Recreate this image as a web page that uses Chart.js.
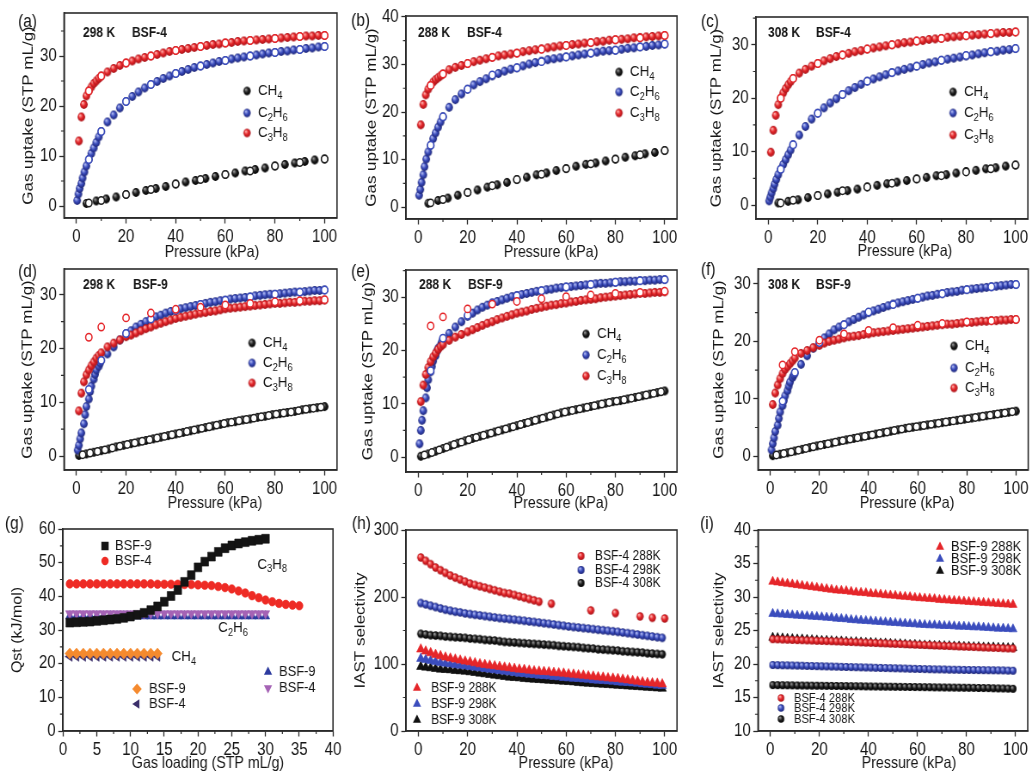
<!DOCTYPE html>
<html>
<head>
<meta charset="utf-8">
<title>Adsorption isotherms, Qst and IAST selectivity of BSF-4 and BSF-9</title>
<script src="https://cdn.jsdelivr.net/npm/chart.js@4.4.1/dist/chart.umd.min.js"></script>
<style>
  html, body { margin: 0; padding: 0; background: #fff; }
  #page { position: relative; width: 1033px; height: 774px; overflow: hidden; background: #fff; }
  .cell { position: absolute; overflow: visible; }
  .cell canvas { display: block; transform-origin: 0 0; }
</style>
</head>
<body>
<div id="page"></div>
<script>
// ---------------- axis ticks ----------------
const P_TICKS = [0, 20, 40, 60, 80, 100];
const UPTAKE_TICKS_30 = [0, 10, 20, 30];
const UPTAKE_TICKS_40 = [0, 10, 20, 30, 40];
const LOAD_TICKS = [0, 5, 10, 15, 20, 25, 30, 35, 40];
const QST_TICKS = [0, 10, 20, 30, 40, 50, 60];
const SEL_TICKS_H = [0, 100, 200, 300];
const SEL_TICKS_I = [10, 15, 20, 25, 30, 35, 40];

// ---------------- pressure grids (kPa) ----------------
const P4_CH4 = [4, 8, 12, 16, 20, 24, 28, 32, 36, 40, 44, 48, 52, 56, 60, 64, 68, 72, 76, 80, 84, 88, 92, 96, 100];
const P4_C2H6 = [0.3, 0.8, 1.3, 2, 2.5, 3.2, 4, 5, 6, 7, 8, 9, 10, 12.5, 15, 17.5, 20, 22.5, 25, 27.5, 30, 32.5, 35, 37.5, 40, 42.5, 45, 47.5, 50, 52.5, 55, 57.5, 60, 62.5, 65, 67.5, 70, 72.5, 75, 77.5, 80, 82.5, 85, 87.5, 90, 92.5, 95, 97.5, 100];
const P4_C3H8 = [1, 2, 3, 4, 5, 6, 7, 8, 9, 10, 12.5, 15, 17.5, 20, 22.5, 25, 27.5, 30, 32.5, 35, 37.5, 40, 42.5, 45, 47.5, 50, 52.5, 55, 57.5, 60, 62.5, 65, 67.5, 70, 72.5, 75, 77.5, 80, 82.5, 85, 87.5, 90, 92.5, 95, 97.5, 100];
const P_DES = [5, 10, 20, 30, 40, 50, 60, 70, 80, 90, 100];
const P9_CH4 = [1, 4, 7, 10, 13, 16, 19, 22, 25, 28, 31, 34, 37, 40, 43, 46, 49, 52, 55, 58, 61, 64, 67, 70, 73, 76, 79, 82, 85, 88, 91, 94, 97, 100];
const P9_CH4_DES = [2.5, 5.5, 8.5, 11.5, 14.5, 17.5, 20.5, 23.5, 26.5, 29.5, 32.5, 35.5, 38.5, 41.5, 44.5, 47.5, 50.5, 53.5, 56.5, 59.5, 62.5, 65.5, 68.5, 71.5, 74.5, 77.5, 80.5, 83.5, 86.5, 89.5, 92.5, 95.5, 98.5];
const P9_C2H6 = [0.5, 1, 1.5, 2, 3, 3.5, 4, 5, 5.5, 6, 7, 7.5, 8, 9, 9.5, 10, 12.5, 15, 17.5, 20, 22, 24, 26, 28, 30, 32, 34, 36, 38, 40, 42, 44, 46, 48, 50, 52, 54, 56, 58, 60, 62, 64, 66, 68, 70, 72, 74, 76, 78, 80, 82, 84, 86, 88, 90, 92, 94, 96, 98, 100];
const P9_C3H8 = [1, 2, 3, 4, 5, 6, 7, 8, 9, 10, 12.5, 15, 17.5, 20, 22, 24, 26, 28, 30, 32, 34, 36, 38, 40, 42, 44, 46, 48, 50, 52, 54, 56, 58, 60, 62, 64, 66, 68, 70, 72, 74, 76, 78, 80, 82, 84, 86, 88, 90, 92, 94, 96, 98, 100];

// ---------------- (a) BSF-4, 298 K uptake (STP mL/g) ----------------
const A_CH4 = [0.5, 1.0, 1.4, 1.8, 2.3, 2.7, 3.1, 3.5, 3.9, 4.4, 4.8, 5.1, 5.5, 5.9, 6.3, 6.6, 7.0, 7.3, 7.6, 8.0, 8.3, 8.6, 8.9, 9.2, 9.4];
const A_C2H6 = [1.1, 2.4, 3.5, 4.5, 5.6, 6.8, 8.0, 9.3, 10.5, 11.6, 12.7, 13.8, 14.9, 16.8, 18.2, 19.6, 20.9, 21.9, 22.8, 23.6, 24.3, 24.9, 25.5, 26.0, 26.5, 26.9, 27.3, 27.7, 28.0, 28.3, 28.6, 28.9, 29.1, 29.4, 29.6, 29.8, 30.0, 30.2, 30.4, 30.6, 30.7, 30.9, 31.0, 31.2, 31.3, 31.5, 31.6, 31.8, 31.9];
const A_C3H8 = [13.0, 17.8, 20.3, 22.0, 23.0, 23.8, 24.5, 25.0, 25.5, 26.0, 26.8, 27.5, 28.1, 28.6, 29.0, 29.4, 29.7, 30.0, 30.3, 30.6, 30.9, 31.1, 31.3, 31.5, 31.7, 31.9, 32.1, 32.3, 32.4, 32.6, 32.7, 32.9, 33.0, 33.1, 33.2, 33.3, 33.4, 33.5, 33.6, 33.7, 33.8, 33.9, 34.0, 34.0, 34.1, 34.1];
const A_DES_CH4 = [0.6, 1.1, 2.3, 3.3, 4.4, 5.3, 6.3, 7.0, 8.0, 8.7, 9.4];
const A_DES_C2H6 = [9.3, 14.9, 20.9, 24.3, 26.5, 28.0, 29.1, 30.0, 30.7, 31.3, 31.9];
const A_DES_C3H8 = [23.0, 26.0, 28.6, 30.0, 31.1, 31.9, 32.6, 33.1, 33.5, 33.9, 34.1];

// ---------------- (b) BSF-4, 288 K ----------------
const B_CH4 = [0.8, 1.4, 1.9, 2.5, 3.1, 3.6, 4.2, 4.7, 5.2, 5.8, 6.3, 6.8, 7.2, 7.7, 8.1, 8.6, 9.0, 9.3, 9.7, 10.1, 10.5, 10.8, 11.2, 11.5, 11.9];
const B_C2H6 = [2.5, 3.7, 5.2, 6.8, 8.5, 10.1, 11.6, 13.0, 14.4, 15.6, 16.8, 17.9, 19.0, 21.0, 22.6, 23.8, 24.8, 25.7, 26.4, 27.0, 27.6, 28.1, 28.6, 29.0, 29.3, 29.7, 30.1, 30.4, 30.7, 31.0, 31.2, 31.4, 31.6, 31.8, 32.0, 32.2, 32.4, 32.6, 32.8, 32.9, 33.0, 33.2, 33.4, 33.5, 33.7, 33.8, 34.0, 34.1, 34.3];
const B_C3H8 = [17.3, 21.6, 23.6, 24.8, 25.6, 26.3, 26.8, 27.2, 27.6, 28.0, 28.9, 29.4, 29.8, 30.2, 30.6, 30.9, 31.2, 31.5, 31.8, 32.0, 32.2, 32.4, 32.7, 32.9, 33.1, 33.3, 33.5, 33.7, 33.9, 34.0, 34.2, 34.3, 34.5, 34.6, 34.8, 34.9, 35.1, 35.2, 35.3, 35.4, 35.6, 35.7, 35.8, 35.9, 36.0, 36.1];
const B_DES_CH4 = [0.9, 1.6, 3.1, 4.5, 5.8, 6.9, 8.1, 9.1, 10.1, 11.0, 11.9];
const B_DES_C2H6 = [13.0, 19.0, 24.8, 27.8, 29.3, 30.6, 31.6, 32.4, 33.0, 33.7, 34.3];
const B_DES_C3H8 = [25.6, 28.0, 30.2, 31.5, 32.4, 33.2, 34.0, 34.6, 35.2, 35.6, 36.1];

// ---------------- (c) BSF-4, 308 K ----------------
const C_CH4 = [0.4, 0.7, 1.0, 1.4, 1.8, 2.1, 2.4, 2.7, 3.0, 3.4, 3.7, 4.0, 4.3, 4.6, 4.9, 5.2, 5.5, 5.7, 6.0, 6.3, 6.5, 6.8, 7.0, 7.3, 7.5];
const C_C2H6 = [0.8, 1.5, 2.3, 3.1, 3.9, 4.8, 5.7, 6.7, 7.6, 8.5, 9.4, 10.3, 11.3, 13.1, 14.7, 16.1, 17.2, 18.2, 19.1, 19.9, 20.7, 21.4, 22.0, 22.6, 23.2, 23.6, 24.0, 24.4, 24.8, 25.1, 25.4, 25.7, 26.0, 26.3, 26.6, 26.8, 27.1, 27.3, 27.5, 27.7, 27.9, 28.1, 28.3, 28.5, 28.7, 28.8, 29.0, 29.1, 29.3];
const C_C3H8 = [9.9, 14.0, 16.8, 18.8, 20.0, 21.0, 21.8, 22.5, 23.1, 23.7, 24.7, 25.4, 26.0, 26.5, 27.0, 27.4, 27.8, 28.1, 28.4, 28.7, 28.9, 29.2, 29.4, 29.6, 29.8, 30.0, 30.2, 30.4, 30.5, 30.7, 30.8, 31.0, 31.1, 31.2, 31.4, 31.5, 31.6, 31.7, 31.8, 31.9, 32.0, 32.1, 32.2, 32.3, 32.3, 32.4];
const C_DES_CH4 = [0.4, 0.9, 1.8, 2.7, 3.4, 4.1, 4.9, 5.5, 6.2, 6.8, 7.5];
const C_DES_C2H6 = [6.7, 11.3, 17.2, 20.7, 23.2, 24.8, 26.0, 27.1, 28.0, 28.7, 29.3];
const C_DES_C3H8 = [20.0, 23.7, 26.5, 28.1, 29.2, 30.0, 30.7, 31.2, 31.7, 32.1, 32.4];

// ---------------- (d) BSF-9, 298 K ----------------
const D_CH4 = [0.1, 0.4, 0.7, 1.0, 1.3, 1.7, 2.0, 2.3, 2.6, 2.9, 3.2, 3.5, 3.8, 4.1, 4.4, 4.7, 5.0, 5.3, 5.6, 5.9, 6.2, 6.4, 6.7, 6.9, 7.2, 7.4, 7.7, 7.9, 8.1, 8.3, 8.6, 8.8, 9.0, 9.2];
const D_DES_CH4 = [0.25, 0.55, 0.85, 1.15, 1.5, 1.85, 2.15, 2.45, 2.75, 3.05, 3.35, 3.65, 3.95, 4.25, 4.55, 4.85, 5.15, 5.45, 5.75, 6.05, 6.3, 6.55, 6.8, 7.05, 7.3, 7.55, 7.8, 8.0, 8.2, 8.45, 8.7, 8.9, 9.1];
const D_C2H6 = [1.1, 2.0, 3.2, 4.3, 6.0, 7.7, 9.2, 10.6, 12.0, 13.0, 14.3, 15.2, 16.0, 16.7, 17.3, 17.8, 19.0, 20.3, 21.6, 22.8, 23.3, 24.0, 24.5, 25.0, 25.5, 25.9, 26.2, 26.6, 26.9, 27.1, 27.4, 27.6, 27.8, 28.0, 28.2, 28.4, 28.6, 28.7, 28.9, 29.0, 29.2, 29.3, 29.4, 29.5, 29.6, 29.8, 29.9, 30.0, 30.1, 30.1, 30.2, 30.3, 30.4, 30.5, 30.5, 30.6, 30.7, 30.8, 30.8, 30.9];
const D_C3H8 = [8.4, 11.7, 13.8, 15.1, 16.0, 16.8, 17.5, 18.2, 18.7, 19.2, 20.3, 21.0, 21.6, 22.2, 22.5, 22.9, 23.3, 23.7, 24.0, 24.4, 24.7, 25.0, 25.3, 25.6, 25.8, 26.0, 26.2, 26.4, 26.6, 26.7, 26.9, 27.0, 27.2, 27.4, 27.5, 27.6, 27.7, 27.8, 27.9, 28.0, 28.1, 28.2, 28.3, 28.4, 28.4, 28.5, 28.6, 28.6, 28.7, 28.8, 28.8, 28.9, 28.9, 29.0];
const D_DES_C2H6 = [12.4, 17.8, 22.8, 25.5, 27.1, 28.2, 29.0, 29.6, 30.1, 30.5, 30.9];
const D_DES_C3H8 = [22.1, 24.0, 25.7, 26.6, 27.3, 27.7, 28.1, 28.4, 28.7, 28.9, 29.1];

// ---------------- (e) BSF-9, 288 K ----------------
const E_CH4 = [0.15, 0.6, 1.1, 1.6, 2.1, 2.6, 3.05, 3.5, 3.9, 4.3, 4.7, 5.1, 5.5, 5.9, 6.3, 6.7, 7.1, 7.5, 7.9, 8.3, 8.6, 8.9, 9.2, 9.5, 9.8, 10.1, 10.4, 10.6, 10.9, 11.2, 11.5, 11.8, 12.1, 12.4];
const E_DES_CH4 = [0.4, 0.85, 1.35, 1.85, 2.35, 2.8, 3.25, 3.7, 4.1, 4.5, 4.9, 5.3, 5.7, 6.1, 6.5, 6.9, 7.3, 7.7, 8.1, 8.45, 8.75, 9.05, 9.35, 9.65, 9.95, 10.25, 10.5, 10.75, 11.05, 11.35, 11.65, 11.95, 12.25];
const E_C2H6 = [2.5, 5.0, 6.9, 8.7, 11.1, 13.0, 14.5, 16.0, 17.0, 18.0, 19.0, 19.8, 20.4, 21.0, 21.6, 22.2, 23.2, 24.4, 25.4, 26.4, 27.0, 27.6, 28.1, 28.5, 28.9, 29.2, 29.5, 29.8, 30.1, 30.3, 30.5, 30.7, 30.9, 31.1, 31.2, 31.4, 31.5, 31.7, 31.8, 31.9, 32.0, 32.1, 32.2, 32.3, 32.4, 32.5, 32.6, 32.6, 32.7, 32.8, 32.9, 32.9, 33.0, 33.0, 33.1, 33.1, 33.2, 33.2, 33.3, 33.3];
const E_C3H8 = [10.4, 13.5, 15.5, 16.8, 17.9, 18.8, 19.5, 20.2, 20.7, 21.1, 21.9, 22.5, 23.0, 23.5, 23.9, 24.3, 24.7, 25.1, 25.4, 25.8, 26.1, 26.4, 26.7, 27.0, 27.2, 27.4, 27.7, 27.9, 28.1, 28.3, 28.5, 28.6, 28.8, 28.9, 29.1, 29.2, 29.4, 29.5, 29.6, 29.7, 29.9, 30.0, 30.1, 30.2, 30.3, 30.4, 30.5, 30.6, 30.7, 30.7, 30.8, 30.9, 30.9, 31.0];
const E_DES_C2H6 = [16.2, 22.3, 26.6, 28.9, 30.3, 31.2, 31.9, 32.4, 32.8, 33.1, 33.3];
const E_DES_C3H8 = [24.6, 26.3, 27.8, 28.7, 29.2, 29.7, 30.1, 30.4, 30.7, 30.9, 31.1];

// ---------------- (f) BSF-9, 308 K ----------------
const F_CH4 = [0.1, 0.35, 0.6, 0.9, 1.2, 1.5, 1.8, 2.05, 2.3, 2.6, 2.85, 3.1, 3.35, 3.6, 3.85, 4.1, 4.35, 4.6, 4.85, 5.05, 5.25, 5.45, 5.65, 5.85, 6.05, 6.25, 6.45, 6.65, 6.85, 7.05, 7.25, 7.45, 7.65, 7.85];
const F_DES_CH4 = [0.22, 0.48, 0.75, 1.05, 1.35, 1.65, 1.92, 2.18, 2.45, 2.72, 2.98, 3.22, 3.48, 3.72, 3.98, 4.22, 4.48, 4.72, 4.95, 5.15, 5.35, 5.55, 5.75, 5.95, 6.15, 6.35, 6.55, 6.75, 6.95, 7.15, 7.35, 7.55, 7.75];
const F_C2H6 = [1.1, 2.2, 3.2, 4.3, 5.4, 6.6, 7.7, 8.8, 9.7, 10.5, 11.4, 12.2, 12.9, 13.7, 14.1, 14.5, 16.0, 17.5, 18.8, 19.7, 20.6, 21.3, 22.0, 22.5, 22.9, 23.4, 23.8, 24.2, 24.6, 25.0, 25.3, 25.6, 25.9, 26.2, 26.5, 26.7, 26.9, 27.1, 27.3, 27.5, 27.7, 27.9, 28.0, 28.2, 28.3, 28.5, 28.6, 28.7, 28.9, 29.0, 29.1, 29.2, 29.3, 29.4, 29.5, 29.6, 29.7, 29.8, 29.9, 29.9];
const F_C3H8 = [9.0, 11.0, 12.4, 13.5, 14.4, 15.1, 15.6, 16.1, 16.6, 17.1, 17.9, 18.4, 18.9, 19.3, 19.7, 20.0, 20.2, 20.4, 20.6, 20.8, 20.9, 21.0, 21.2, 21.3, 21.5, 21.6, 21.7, 21.8, 21.9, 22.0, 22.1, 22.2, 22.3, 22.4, 22.5, 22.6, 22.7, 22.8, 22.9, 23.0, 23.0, 23.1, 23.2, 23.3, 23.3, 23.4, 23.5, 23.5, 23.6, 23.6, 23.7, 23.7, 23.8, 23.8];
const F_DES_C2H6 = [9.6, 14.6, 19.8, 22.9, 25.1, 26.4, 27.5, 28.3, 29.0, 29.5, 29.9];
const F_DES_C3H8 = [15.9, 18.2, 20.2, 21.3, 21.9, 22.4, 22.8, 23.1, 23.4, 23.6, 23.8];

// ---------------- (g) isosteric heat, Qst (kJ/mol) vs loading ----------------
const G_LOAD_30 = [1, 2, 3, 4, 5, 6, 7, 8, 9, 10, 11, 12, 13, 14, 15, 16, 17, 18, 19, 20, 21, 22, 23, 24, 25, 26, 27, 28, 29, 30];
const G_LOAD_35 = [1, 2, 3, 4, 5, 6, 7, 8, 9, 10, 11, 12, 13, 14, 15, 16, 17, 18, 19, 20, 21, 22, 23, 24, 25, 26, 27, 28, 29, 30, 31, 32, 33, 34, 35];
const G_LOAD_14 = [1, 2, 3, 4, 5, 6, 7, 8, 9, 10, 11, 12, 13, 14];
const G_C3H8_BSF9 = [32.2, 32.3, 32.4, 32.5, 32.7, 32.9, 33.1, 33.3, 33.6, 34.0, 34.5, 35.1, 35.9, 37.0, 38.4, 40.1, 41.9, 44.3, 46.3, 48.6, 50.3, 51.8, 53.2, 54.3, 55.1, 55.7, 56.1, 56.5, 56.8, 57.1];
const G_C3H8_BSF4 = [43.7, 43.7, 43.7, 43.7, 43.7, 43.7, 43.7, 43.7, 43.7, 43.7, 43.7, 43.7, 43.7, 43.6, 43.6, 43.6, 43.6, 43.5, 43.5, 43.4, 43.3, 43.2, 42.9, 42.6, 42.2, 41.6, 41.0, 40.2, 39.6, 38.9, 38.4, 37.9, 37.6, 37.4, 37.2];
const G_C2H6_BSF9 = [34.1, 34.1, 34.1, 34.1, 34.1, 34.1, 34.1, 34.1, 34.1, 34.1, 34.1, 34.1, 34.1, 34.1, 34.1, 34.1, 34.1, 34.1, 34.1, 34.1, 34.1, 34.1, 34.1, 34.1, 34.1, 34.1, 34.1, 34.1, 34.1, 34.1];
const G_C2H6_BSF4 = [34.9, 34.9, 34.9, 34.9, 34.9, 34.9, 34.9, 34.9, 34.9, 34.9, 34.9, 34.9, 34.9, 34.9, 34.9, 34.9, 34.9, 34.9, 34.9, 34.9, 34.9, 34.9, 34.9, 34.9, 34.9, 34.9, 34.9, 34.9, 34.9, 34.9];
const G_CH4_BSF9 = [23.0, 23.0, 23.0, 23.0, 23.0, 23.0, 23.0, 23.0, 23.0, 23.0, 23.0, 23.0, 23.0, 23.0];
const G_CH4_BSF4 = [22.1, 22.1, 22.1, 22.1, 22.1, 22.1, 22.1, 22.1, 22.1, 22.1, 22.1, 22.1, 22.1, 22.1];

// ---------------- (h) IAST selectivity C3H8/CH4 ----------------
const H_P = [1, 3, 5, 7, 9, 11, 13, 15, 17, 19, 21, 23, 25, 27, 29, 31, 33, 35, 37, 39, 41, 43, 45, 47, 49, 51, 53, 55, 57, 59, 61, 63, 65, 67, 69, 71, 73, 75, 77, 79, 81, 83, 85, 87, 89, 91, 93, 95, 97, 99];
const H_P_B4_288 = [1, 3, 5, 7, 9, 11, 13, 15, 17, 19, 21, 23, 25, 27, 29, 31, 33, 35, 37, 39, 41, 43, 45, 47, 49, 54, 70, 80, 90, 95, 100];
const H_B4_288 = [259, 254, 249, 244, 240, 236, 232, 229, 226, 223, 220, 218, 216, 214, 212, 210, 208, 206, 205, 203, 201, 199, 197, 195, 193, 190, 180, 176, 171, 169, 168];
const H_B4_298 = [191, 189, 187, 185, 183, 181, 179.5, 178, 177, 175.5, 174.5, 173.5, 172.5, 171.5, 170.5, 169.5, 168.5, 167.8, 167, 166.2, 165.4, 164.5, 163.6, 162.7, 161.8, 160.9, 160, 159, 158, 157, 156, 155.2, 154.4, 153.6, 152.8, 152, 151.2, 150.4, 149.6, 148.8, 148, 147, 146, 145, 144, 143, 142, 141, 140, 139];
const H_B4_308 = [145, 144, 143, 142.5, 142, 141, 140.5, 140, 139.5, 139, 138, 137.5, 137, 136, 135.5, 135, 134, 133, 132.5, 132, 131.5, 131, 130.5, 130, 129.5, 129, 128.5, 128, 127, 126.5, 126, 125.5, 125, 124, 123.5, 123, 122, 121.5, 121, 120.5, 120, 119, 118.5, 118, 117.5, 117, 116, 115.5, 115, 114.5];
const H_B9_288 = [122, 119, 116.5, 114, 112, 110, 108.5, 107, 105.5, 104, 103, 101.5, 100, 99, 98, 97, 96, 95, 94, 93, 92, 91.5, 90.5, 89.5, 89, 88.5, 88, 87, 86.5, 86, 85, 84.5, 83.5, 83, 82, 81.5, 80.5, 80, 79, 78.5, 78, 77, 76, 75, 74, 73, 72, 71.5, 71, 70];
const H_B9_298 = [108, 106.5, 105, 103.5, 102, 101, 100, 99, 98, 97, 96, 95, 94, 93, 92, 91, 90, 89, 88, 87, 86, 85.5, 84.5, 84, 83, 82.5, 82, 81, 80.5, 79.5, 79, 78.5, 78, 77.5, 77, 76, 75.5, 75, 74.5, 74, 73, 72.5, 72, 71.5, 71, 70, 69.5, 69, 68, 67.5];
const H_B9_308 = [96, 95, 94, 93, 92, 91.5, 91, 90, 89.5, 89, 88, 87, 86, 85, 84, 83, 82, 81, 80, 79.5, 79, 78, 77.5, 77, 76.5, 76, 75.5, 75, 74.5, 74, 73.5, 73, 72, 71.5, 71, 70.5, 70, 69.5, 69, 68.5, 68, 67.5, 67, 66.5, 66, 65.5, 65, 64.5, 64, 63.5];

// ---------------- (i) IAST selectivity C2H6/CH4 ----------------
const I_P = H_P;
const I_B9_288 = [32.3, 32.2, 32.1, 32.0, 31.9, 31.8, 31.7, 31.6, 31.5, 31.4, 31.3, 31.2, 31.1, 31.0, 30.95, 30.9, 30.8, 30.7, 30.65, 30.6, 30.5, 30.45, 30.4, 30.3, 30.25, 30.2, 30.1, 30.05, 30.0, 29.9, 29.85, 29.8, 29.75, 29.7, 29.6, 29.55, 29.5, 29.45, 29.4, 29.35, 29.3, 29.25, 29.2, 29.15, 29.1, 29.05, 29.0, 28.95, 28.9, 28.85];
const I_B9_298 = [27.5, 27.45, 27.4, 27.35, 27.3, 27.25, 27.2, 27.15, 27.1, 27.05, 27.0, 26.95, 26.9, 26.8, 26.75, 26.7, 26.6, 26.55, 26.5, 26.45, 26.4, 26.35, 26.3, 26.25, 26.2, 26.15, 26.1, 26.05, 26.0, 25.95, 25.9, 25.85, 25.8, 25.8, 25.75, 25.7, 25.7, 25.65, 25.6, 25.6, 25.55, 25.5, 25.5, 25.45, 25.4, 25.35, 25.3, 25.3, 25.25, 25.2];
const I_B9_308 = [23.95, 23.9, 23.85, 23.8, 23.75, 23.7, 23.7, 23.65, 23.6, 23.55, 23.5, 23.5, 23.45, 23.4, 23.4, 23.35, 23.3, 23.3, 23.25, 23.2, 23.2, 23.15, 23.1, 23.1, 23.05, 23.0, 23.0, 22.95, 22.9, 22.9, 22.85, 22.8, 22.8, 22.75, 22.75, 22.7, 22.7, 22.65, 22.65, 22.6, 22.6, 22.55, 22.55, 22.5, 22.5, 22.5, 22.45, 22.45, 22.4, 22.4];
const I_B4_288 = [23.7, 23.68, 23.65, 23.62, 23.6, 23.57, 23.55, 23.52, 23.5, 23.47, 23.45, 23.42, 23.4, 23.37, 23.34, 23.31, 23.28, 23.25, 23.22, 23.19, 23.16, 23.13, 23.1, 23.07, 23.04, 23.01, 22.98, 22.95, 22.92, 22.89, 22.86, 22.83, 22.8, 22.77, 22.74, 22.71, 22.68, 22.65, 22.62, 22.59, 22.56, 22.53, 22.5, 22.47, 22.44, 22.41, 22.38, 22.35, 22.32, 22.3];
const I_B4_298 = [19.85, 19.83, 19.81, 19.8, 19.78, 19.76, 19.74, 19.72, 19.7, 19.68, 19.66, 19.64, 19.62, 19.6, 19.58, 19.56, 19.54, 19.52, 19.5, 19.48, 19.46, 19.44, 19.42, 19.4, 19.38, 19.36, 19.34, 19.32, 19.3, 19.28, 19.26, 19.24, 19.22, 19.2, 19.19, 19.18, 19.16, 19.15, 19.14, 19.12, 19.11, 19.1, 19.09, 19.08, 19.07, 19.06, 19.05, 19.04, 19.02, 19.0];
const I_B4_308 = [16.85, 16.84, 16.83, 16.82, 16.81, 16.8, 16.79, 16.78, 16.77, 16.76, 16.75, 16.74, 16.73, 16.72, 16.71, 16.7, 16.69, 16.68, 16.67, 16.66, 16.65, 16.64, 16.63, 16.62, 16.61, 16.6, 16.59, 16.58, 16.57, 16.56, 16.55, 16.54, 16.53, 16.52, 16.51, 16.5, 16.49, 16.48, 16.47, 16.46, 16.45, 16.44, 16.42, 16.41, 16.4, 16.38, 16.36, 16.35, 16.33, 16.3];

// ---------------- labels ----------------
const GASES = ['CH4', 'C2H6', 'C3H8'];
const SAMPLES = ['BSF-4', 'BSF-9'];
const TEMPS = ['288 K', '298 K', '308 K'];

// ---------------- typography ----------------
// Every panel is drawn on a canvas that is wider than its slot and squeezed
// horizontally by SQUEEZE, which gives the condensed lettering of the figure.
const SQUEEZE = 0.86;
const FONT = '"Liberation Sans", Arial, Helvetica, sans-serif';

// ---------------- colours & markers ----------------
const RED = {c: '#e5262a', l: '#ffb0ac', d: '#a8141a'};
const BLUE = {c: '#3b4dbd', l: '#b2bbf2', d: '#1d2577'};
const BLACK = {c: '#202020', l: '#9a9a9a', d: '#000000'};
const TXT = '#161616';
const AXIS = '#2b2b2b';

const spriteCache = {};
function ball(col, r) {
  const key = col.c + r;
  if (spriteCache[key]) return spriteCache[key];
  const s = Math.ceil(r * 2 + 2);
  const cv = document.createElement('canvas');
  cv.width = cv.height = s;
  const g = cv.getContext('2d');
  const m = s / 2;
  const grad = g.createRadialGradient(m - r * 0.35, m - r * 0.4, r * 0.1, m, m, r);
  grad.addColorStop(0, col.l);
  grad.addColorStop(0.5, col.c);
  grad.addColorStop(1, col.d);
  g.fillStyle = grad;
  g.beginPath(); g.arc(m, m, r, 0, Math.PI * 2); g.fill();
  spriteCache[key] = cv;
  return cv;
}

const zip = (xs, ys) => xs.map((x, i) => ({x, y: ys[i]})).filter(p => p.y !== undefined);

function filled(xs, ys, col, r = 4.4) {
  return {data: zip(xs, ys), pointStyle: ball(col, r), pointRadius: r, pointHoverRadius: r};
}
function hollow(xs, ys, col) {
  return {data: zip(xs, ys), pointStyle: 'circle', pointRadius: 3.7, pointHoverRadius: 3.7,
          backgroundColor: '#ffffff', borderColor: col.c, borderWidth: 1.5};
}
function marker(xs, ys, style, color, r, rot = 0) {
  return {data: zip(xs, ys), pointStyle: style, pointRadius: r, pointHoverRadius: r, pointRotation: rot,
          backgroundColor: color, borderColor: color, borderWidth: 0.6};
}

function isotherm(pCH4, ch4, pC2, c2, pC3, c3, pDesCH4, dCH4, dC2, dC3) {
  return [
    filled(pCH4, ch4, BLACK), filled(pC2, c2, BLUE), filled(pC3, c3, RED),
    hollow(pDesCH4, dCH4, BLACK), hollow(P_DES, dC2, BLUE), hollow(P_DES, dC3, RED)
  ];
}

function gasLegend(mx, tx, ys) {
  return GASES.map((g, i) => ({kind: 'img', img: ball([BLACK, BLUE, RED][i], 4.2), x: mx, y: ys[i],
                               text: g, tx, size: 15.5, chem: true}));
}

// ---------------- panel definitions (page pixel positions) ----------------
const UPTAKE = 'Gas uptake (STP mL/g)';
const PRESS = 'Pressure (kPa)';
const PANELS = [
  {id: 'a', cell: [0, 0, 344, 261], area: [64, 13, 337, 218], x: [-5, 105], y: [-2.4, 38.6],
   xt: P_TICKS, yt: UPTAKE_TICKS_30, xm: 10, ym: 5, xtitle: PRESS, xTitle: [212, 252], ytitle: UPTAKE, yTitleX: 29,
   label: ['(a)', 18, 22], head: [TEMPS[1], SAMPLES[0], 83, 132, 33],
   marks: gasLegend(247, 258, [91, 113, 133]),
   sets: isotherm(P4_CH4, A_CH4, P4_C2H6, A_C2H6, P4_C3H8, A_C3H8, P_DES, A_DES_CH4, A_DES_C2H6, A_DES_C3H8)},
  {id: 'b', cell: [344, 0, 344, 261], area: [406, 16, 677, 219], x: [-5, 105], y: [-2.5, 40.2],
   xt: P_TICKS, yt: UPTAKE_TICKS_40, xm: 10, ym: 5, xtitle: PRESS, xTitle: [551, 252], ytitle: UPTAKE, yTitleX: 27.5,
   label: ['(b)', 351, 21], head: [TEMPS[0], SAMPLES[0], 418, 467, 33],
   marks: gasLegend(619, 630, [72, 92, 113]),
   sets: isotherm(P4_CH4, B_CH4, P4_C2H6, B_C2H6, P4_C3H8, B_C3H8, P_DES, B_DES_CH4, B_DES_C2H6, B_DES_C3H8)},
  {id: 'c', cell: [688, 0, 345, 261], area: [756, 17, 1028, 219], x: [-5, 105], y: [-2.6, 35.2],
   xt: P_TICKS, yt: UPTAKE_TICKS_30, xm: 10, ym: 5, xtitle: PRESS, xTitle: [905, 251], ytitle: UPTAKE, yTitleX: 29,
   label: ['(c)', 701, 22], head: [TEMPS[2], SAMPLES[0], 768, 816, 33],
   marks: gasLegend(953, 964, [92, 113, 135]),
   sets: isotherm(P4_CH4, C_CH4, P4_C2H6, C_C2H6, P4_C3H8, C_C3H8, P_DES, C_DES_CH4, C_DES_C2H6, C_DES_C3H8)},
  {id: 'd', cell: [0, 255, 344, 258], area: [64, 269, 337, 470], x: [-5, 105], y: [-2.6, 34.8],
   xt: P_TICKS, yt: UPTAKE_TICKS_30, xm: 10, ym: 5, xtitle: PRESS, xTitle: [215, 503], ytitle: UPTAKE, yTitleX: 28,
   label: ['(d)', 18, 272], head: [TEMPS[1], SAMPLES[1], 83, 133, 285],
   marks: gasLegend(252, 263, [343, 363, 383]),
   sets: isotherm(P9_CH4, D_CH4, P9_C2H6, D_C2H6, P9_C3H8, D_C3H8, P9_CH4_DES, D_DES_CH4, D_DES_C2H6, D_DES_C3H8)},
  {id: 'e', cell: [344, 255, 344, 258], area: [406, 270, 677, 472], x: [-5, 105], y: [-2.8, 35.1],
   xt: P_TICKS, yt: UPTAKE_TICKS_30, xm: 10, ym: 5, xtitle: PRESS, xTitle: [561, 503], ytitle: UPTAKE, yTitleX: 24,
   label: ['(e)', 351, 272], head: [TEMPS[0], SAMPLES[1], 419, 468, 285],
   marks: gasLegend(586, 597, [334, 355, 376]),
   sets: isotherm(P9_CH4, E_CH4, P9_C2H6, E_C2H6, P9_C3H8, E_C3H8, P9_CH4_DES, E_DES_CH4, E_DES_C2H6, E_DES_C3H8)},
  {id: 'f', cell: [688, 255, 345, 258], area: [758, 269, 1030, 470], x: [-5, 105], y: [-2.4, 32.6],
   xt: P_TICKS, yt: UPTAKE_TICKS_30, xm: 10, ym: 5, xtitle: PRESS, xTitle: [907, 503], ytitle: UPTAKE, yTitleX: 31.5,
   label: ['(f)', 701, 270], head: [TEMPS[2], SAMPLES[1], 768, 816, 285],
   marks: gasLegend(954, 965, [346, 368, 388]),
   sets: isotherm(P9_CH4, F_CH4, P9_C2H6, F_C2H6, P9_C3H8, F_C3H8, P9_CH4_DES, F_DES_CH4, F_DES_C2H6, F_DES_C3H8)},
  {id: 'g', cell: [0, 515, 344, 259], area: [63, 529, 333, 731], x: [0, 40], y: [0, 60],
   xt: LOAD_TICKS, yt: QST_TICKS, xm: 2.5, ym: 5, xtitle: 'Gas loading (STP mL/g)', xTitle: [208, 763],
   ytitle: 'Qst (kJ/mol)', yTitleX: 17.5, yTitleSize: 16,
   label: ['(g)', 5, 524],
   notes: [{text: 'C3H8', x: 28.8, y: 49.5}, {text: 'C2H6', x: 23, y: 30.6}, {text: 'CH4', x: 16.1, y: 22}],
   marks: [
     {kind: 'shape', style: 'rect', r: 6, color: '#141414', x: 105, y: 546, text: SAMPLES[1], tx: 115, size: 15},
     {kind: 'shape', style: 'circle', r: 4.2, color: '#ee2b25', x: 105, y: 561, text: SAMPLES[0], tx: 115, size: 15},
     {kind: 'shape', style: 'rectRot', r: 5.5, color: '#f58a2e', x: 137, y: 689, text: SAMPLES[1], tx: 149, size: 15},
     {kind: 'shape', style: 'triangle', rot: -90, r: 5.5, color: '#3a2e6a', x: 137, y: 704, text: SAMPLES[0], tx: 149, size: 15},
     {kind: 'shape', style: 'triangle', r: 5.5, color: '#2d3b9f', x: 268, y: 672, text: SAMPLES[1], tx: 279, size: 15},
     {kind: 'shape', style: 'triangle', rot: 180, r: 5.5, color: '#a563b5', x: 268, y: 688, text: SAMPLES[0], tx: 279, size: 15}
   ],
   sets: [
     marker(G_LOAD_14, G_CH4_BSF4, 'triangle', '#3a2e6a', 5.5, -90),
     marker(G_LOAD_14, G_CH4_BSF9, 'rectRot', '#f58a2e', 5.5),
     marker(G_LOAD_30, G_C2H6_BSF9, 'triangle', '#2d3b9f', 5.6),
     marker(G_LOAD_30, G_C2H6_BSF4, 'triangle', '#a563b5', 5.6, 180),
     marker(G_LOAD_35, G_C3H8_BSF4, 'circle', '#ee2b25', 4.3),
     marker(G_LOAD_30, G_C3H8_BSF9, 'rect', '#141414', 6.3)
   ]},
  {id: 'h', cell: [344, 515, 344, 259], area: [406, 530, 677, 731], x: [-5, 105], y: [0, 300],
   xt: P_TICKS, yt: SEL_TICKS_H, xm: 10, ym: 50, xtitle: PRESS, xTitle: [566, 763], ytitle: 'IAST selectivity', yTitleX: 16.5,
   label: ['(h)', 352, 524],
   marks: [
     {kind: 'img', img: ball(RED, 4), x: 581, y: 556, text: 'BSF-4 288K', tx: 595, size: 14},
     {kind: 'img', img: ball(BLUE, 4), x: 581, y: 570, text: 'BSF-4 298K', tx: 595, size: 14},
     {kind: 'img', img: ball(BLACK, 4), x: 581, y: 583, text: 'BSF-4 308K', tx: 595, size: 14},
     {kind: 'shape', style: 'triangle', r: 5.5, color: RED.c, x: 417, y: 688, text: 'BSF-9 288K', tx: 431, size: 14},
     {kind: 'shape', style: 'triangle', r: 5.5, color: BLUE.c, x: 417, y: 704, text: 'BSF-9 298K', tx: 431, size: 14},
     {kind: 'shape', style: 'triangle', r: 5.5, color: '#111111', x: 417, y: 720, text: 'BSF-9 308K', tx: 431, size: 14}
   ],
   sets: [
     filled(H_P, H_B4_308, BLACK, 4.2), filled(H_P, H_B4_298, BLUE, 4.2), filled(H_P_B4_288, H_B4_288, RED, 4.2),
     marker(H_P, H_B9_308, 'triangle', '#111111', 5.6),
     marker(H_P, H_B9_298, 'triangle', BLUE.c, 5.6),
     marker(H_P, H_B9_288, 'triangle', RED.c, 5.6)
   ]},
  {id: 'i', cell: [688, 515, 345, 259], area: [758, 530, 1028, 731], x: [-5, 105], y: [10, 40],
   xt: P_TICKS, yt: SEL_TICKS_I, xm: 10, ym: 2.5, xtitle: PRESS, xTitle: [909, 763], ytitle: 'IAST selectivity', yTitleX: 31.5,
   label: ['(i)', 700, 524],
   marks: [
     {kind: 'shape', style: 'triangle', r: 5.5, color: RED.c, x: 940, y: 547, text: 'BSF-9 288K', tx: 951, size: 15},
     {kind: 'shape', style: 'triangle', r: 5.5, color: BLUE.c, x: 940, y: 559, text: 'BSF-9 298K', tx: 951, size: 15},
     {kind: 'shape', style: 'triangle', r: 5.5, color: '#111111', x: 940, y: 571, text: 'BSF-9 308K', tx: 951, size: 15},
     {kind: 'img', img: ball(RED, 3.8), x: 781, y: 698, text: 'BSF-4 288K', tx: 794, size: 13},
     {kind: 'img', img: ball(BLUE, 3.8), x: 781, y: 708, text: 'BSF-4 298K', tx: 794, size: 13},
     {kind: 'img', img: ball(BLACK, 3.8), x: 781, y: 719, text: 'BSF-4 308K', tx: 794, size: 13}
   ],
   sets: [
     marker(I_P, I_B9_308, 'triangle', '#111111', 5.4),
     filled(I_P, I_B4_308, BLACK, 4), filled(I_P, I_B4_298, BLUE, 4), filled(I_P, I_B4_288, RED, 4),
     marker(I_P, I_B9_298, 'triangle', BLUE.c, 5.4),
     marker(I_P, I_B9_288, 'triangle', RED.c, 5.4)
   ]}
];

// ---------------- drawing helpers ----------------
function drawShape(ctx, style, x, y, r, rot, fill) {
  ctx.save();
  ctx.translate(x, y);
  ctx.rotate((rot || 0) * Math.PI / 180);
  ctx.beginPath();
  if (style === 'triangle') {
    for (let k = 0; k < 3; k++) {
      const a = -Math.PI / 2 + k * 2 * Math.PI / 3;
      if (k) ctx.lineTo(Math.cos(a) * r, Math.sin(a) * r); else ctx.moveTo(Math.cos(a) * r, Math.sin(a) * r);
    }
    ctx.closePath();
  } else if (style === 'rect') {
    const s = r * Math.SQRT1_2;
    ctx.rect(-s, -s, 2 * s, 2 * s);
  } else if (style === 'rectRot') {
    ctx.moveTo(0, -r); ctx.lineTo(r, 0); ctx.lineTo(0, r); ctx.lineTo(-r, 0); ctx.closePath();
  } else {
    ctx.arc(0, 0, r, 0, Math.PI * 2);
  }
  ctx.fillStyle = fill;
  ctx.fill();
  ctx.restore();
}

// chemical formulae: digits are set as subscripts
function drawChem(ctx, s, x, y, size) {
  let cx = x;
  for (const ch of s) {
    const sub = ch >= '0' && ch <= '9';
    ctx.font = (sub ? size * 0.7 : size) + 'px ' + FONT;
    ctx.fillText(ch, cx, sub ? y + size * 0.3 : y);
    cx += ctx.measureText(ch).width;
  }
}

function drawLabel(ctx, s, x, y, size, chem, bold, align) {
  ctx.fillStyle = TXT;
  ctx.textBaseline = 'middle';
  ctx.textAlign = align || 'left';
  if (chem) { drawChem(ctx, s, x, y, size); return; }
  ctx.font = (bold ? 'bold ' : '') + size + 'px ' + FONT;
  ctx.fillText(s, x, y);
}

const SPEC = {};
const decor = {
  id: 'decor',
  afterDatasetsDraw(chart) {
    const p = SPEC[chart.canvas.id];
    if (!p) return;
    const ctx = chart.ctx;
    const a = chart.chartArea;
    const ox = p.cell[0], oy = p.cell[1];
    const X = px => (px - ox) / SQUEEZE;   // page x -> canvas x
    const Y = py => py - oy;               // page y -> canvas y
    const sx = chart.scales.x, sy = chart.scales.y;
    ctx.save();
    // frame
    ctx.strokeStyle = AXIS;
    ctx.lineWidth = 1.6;
    ctx.strokeRect(a.left, a.top, a.right - a.left, a.bottom - a.top);
    // minor ticks
    ctx.lineWidth = 1.2;
    ctx.beginPath();
    for (let v = Math.ceil(p.x[0] / p.xm) * p.xm; v <= p.x[1] + 1e-9; v += p.xm) {
      if (p.xt.includes(+v.toFixed(6))) continue;
      const px = sx.getPixelForValue(v);
      ctx.moveTo(px, a.bottom); ctx.lineTo(px, a.bottom + 3);
    }
    for (let v = Math.ceil(p.y[0] / p.ym) * p.ym; v <= p.y[1] + 1e-9; v += p.ym) {
      if (p.yt.includes(+v.toFixed(6))) continue;
      const py = sy.getPixelForValue(v);
      ctx.moveTo(a.left, py); ctx.lineTo(a.left - 3.5, py);
    }
    ctx.stroke();
    // x-axis title
    drawLabel(ctx, p.xtitle, X(p.xTitle[0]), Y(p.xTitle[1]), 16.5, false, false, 'center');
    // panel letter
    drawLabel(ctx, p.label[0], X(p.label[1]), Y(p.label[2]), 18, false, false);
    // temperature / sample heading
    if (p.head) {
      drawLabel(ctx, p.head[0], X(p.head[2]), Y(p.head[4]), 14, false, true);
      drawLabel(ctx, p.head[1], X(p.head[3]), Y(p.head[4]), 14, false, true);
    }
    // legend entries
    (p.marks || []).forEach(m => {
      const mx = X(m.x), my = Y(m.y);
      if (m.kind === 'img') ctx.drawImage(m.img, mx - m.img.width / 2, my - m.img.height / 2);
      else drawShape(ctx, m.style, mx, my, m.r, m.rot, m.color);
      drawLabel(ctx, m.text, X(m.tx), my, m.size, !!m.chem, false);
    });
    // curve annotations in data coordinates
    (p.notes || []).forEach(n => {
      drawLabel(ctx, n.text, sx.getPixelForValue(n.x), sy.getPixelForValue(n.y), 15.5, true, false);
    });
    ctx.restore();
  }
};

function buildConfig(p) {
  const [cx, cy, cw, ch] = p.cell;
  const [L, T, R, B] = p.area;
  const tickFont = {family: FONT, size: 17.5, lineHeight: 1};
  const grid = {display: true, drawOnChartArea: false, drawTicks: true, tickLength: 5.5, tickWidth: 1.3,
                color: AXIS, tickColor: AXIS};
  const border = {display: true, color: AXIS, width: 1.6};
  const ySize = p.yTitleSize || 17;
  return {
    type: 'scatter',
    data: {datasets: p.sets.map((d, i) => Object.assign({order: -i, showLine: false}, d))},
    options: {
      responsive: false, maintainAspectRatio: false, animation: false, devicePixelRatio: 1, events: [],
      layout: {padding: {left: 0, top: T - cy, right: (cx + cw - R) / SQUEEZE, bottom: 0}},
      plugins: {legend: {display: false}, tooltip: {enabled: false}},
      scales: {
        x: {
          type: 'linear', min: p.x[0], max: p.x[1],
          afterBuildTicks: s => { s.ticks = p.xt.map(v => ({value: v})); },
          afterFit: s => { s.height = cy + ch - B; s.paddingLeft = 0; s.paddingRight = 0; },
          grid, border,
          ticks: {autoSkip: false, maxRotation: 0, minRotation: 0, padding: 4.5, color: TXT, font: tickFont},
          title: {display: false}
        },
        y: {
          type: 'linear', min: p.y[0], max: p.y[1],
          afterBuildTicks: s => { s.ticks = p.yt.map(v => ({value: v})); },
          afterFit: s => { s.width = (L - cx) / SQUEEZE; s.paddingTop = 0; s.paddingBottom = 0; },
          grid, border,
          ticks: {padding: 3, color: TXT, font: tickFont},
          title: {display: true, text: p.ytitle, color: TXT, font: {family: FONT, size: ySize, lineHeight: 1},
                  padding: {top: Math.max(0, p.yTitleX / SQUEEZE - ySize / 2), bottom: 0}}
        }
      }
    },
    plugins: [decor]
  };
}

const page = document.getElementById('page');
PANELS.forEach(p => {
  const [cx, cy, cw, ch] = p.cell;
  const div = document.createElement('div');
  div.className = 'cell';
  Object.assign(div.style, {left: cx + 'px', top: cy + 'px', width: cw + 'px', height: ch + 'px'});
  const cv = document.createElement('canvas');
  const w = Math.round(cw / SQUEEZE);
  cv.id = 'panel-' + p.id;
  cv.width = w; cv.height = ch;
  cv.style.width = w + 'px'; cv.style.height = ch + 'px';
  cv.style.transform = 'scaleX(' + SQUEEZE + ')';
  div.appendChild(cv);
  page.appendChild(div);
  SPEC[cv.id] = p;
  new Chart(cv, buildConfig(p));
});
</script>
</body>
</html>
